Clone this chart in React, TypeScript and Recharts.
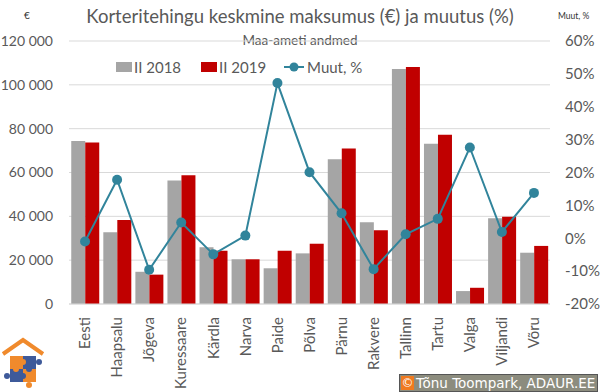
import React from 'react'
import { ComposedChart, Bar, Line, XAxis, YAxis, CartesianGrid } from 'recharts'

const cities = ['Eesti', 'Haapsalu', 'Jõgeva', 'Kuressaare', 'Kärdla', 'Narva', 'Paide', 'Põlva', 'Pärnu', 'Rakvere', 'Tallinn', 'Tartu', 'Valga', 'Viljandi', 'Võru']
const price2018 = [74400, 32700, 14700, 56400, 25900, 20400, 16300, 23100, 66000, 37300, 107200, 73100, 5900, 39100, 23400]
const price2019 = [73700, 38300, 13400, 58700, 24300, 20400, 24300, 27500, 70900, 33600, 108100, 77200, 7400, 39800, 26500]
const change = [-0.010, 0.178, -0.096, 0.048, -0.049, 0.008, 0.472, 0.201, 0.076, -0.094, 0.012, 0.059, 0.276, 0.019, 0.138]
const leftTicks = [0, 20000, 40000, 60000, 80000, 100000, 120000]
const rightTicks = [-0.2, -0.1, 0, 0.1, 0.2, 0.3, 0.4, 0.5, 0.6]

const data = cities.map((c, i) => ({ name: c, y2018: price2018[i], y2019: price2019[i], muut: change[i] }))

const FONT = 'Lato, "Open Sans", sans-serif'
const TXT = '#595959'
const GRAY = '#A5A5A5'
const RED = '#C00000'
const TEAL = '#31849B'

const fmtNum = (v: number) => String(v).replace(/\B(?=(\d{3})+(?!\d))/g, ' ')
const fmtPct = (v: number) => `${Math.round(v * 100)}%`

function CityTick({ x, y, payload }: any) {
  const ty = y + 11
  return (
    <text x={x} y={ty} transform={`rotate(-90, ${x}, ${ty})`} textAnchor="end" dy="0.35em"
      fontSize={15} fill={TXT} fontFamily={FONT}>
      {payload.value}
    </text>
  )
}

function Logo() {
  return (
    <svg width={44} height={58} viewBox="0 0 44 58" style={{ position: 'absolute', left: 1, top: 334 }}>
      <polyline points="2,20 22,6 42,20" fill="none" stroke="#F08A2C" strokeWidth={4} />
      <rect x={9} y={22} width={13} height={13} fill="#F08A2C" />
      <rect x={22} y={22} width={13} height={13} fill="#3E5A9A" />
      <rect x={9} y={35} width={13} height={13} fill="#3E5A9A" />
      <rect x={22} y={35} width={13} height={13} fill="#F08A2C" />
      <circle cx={22} cy={28} r={3} fill="#F08A2C" />
      <circle cx={28} cy={35} r={3} fill="#3E5A9A" />
      <circle cx={15} cy={35} r={3} fill="#F08A2C" />
      <circle cx={22} cy={42} r={3} fill="#3E5A9A" />
      <circle cx={6} cy={42} r={3} fill="#3E5A9A" />
      <circle cx={38} cy={28} r={3} fill="#3E5A9A" />
      <circle cx={28} cy={51} r={3} fill="#F08A2C" />
    </svg>
  )
}

export default function App() {
  return (
    <div style={{ position: 'absolute', left: 0, top: 0, width: 600, height: 392, background: '#fff', fontFamily: FONT, overflow: 'hidden' }}>
      <div style={{ position: 'absolute', left: 0, width: 600, top: 5, textAlign: 'center', fontSize: 18.5, color: TXT }}>
        Korteritehingu keskmine maksumus (€) ja muutus (%)
      </div>
      <div style={{ position: 'absolute', left: 0, width: 600, top: 32, textAlign: 'center', fontSize: 13.5, color: TXT }}>
        Maa-ameti andmed
      </div>
      <div style={{ position: 'absolute', left: 24, top: 9, fontSize: 10, color: '#333' }}>€</div>
      <div style={{ position: 'absolute', left: 558, top: 11, fontSize: 8.5, color: '#333' }}>Muut, %</div>

      <div style={{ position: 'absolute', left: 116, top: 58, display: 'flex', alignItems: 'center', fontSize: 15, color: TXT, whiteSpace: 'nowrap' }}>
        <span style={{ width: 16, height: 10, background: GRAY, display: 'inline-block', marginRight: 2 }} />
        <span style={{ marginRight: 20 }}>II 2018</span>
        <span style={{ width: 16, height: 10, background: RED, display: 'inline-block', marginRight: 2 }} />
        <span style={{ marginRight: 18 }}>II 2019</span>
        <svg width={20} height={12} style={{ marginRight: 3 }}>
          <line x1={0} y1={6} x2={20} y2={6} stroke={TEAL} strokeWidth={2} />
          <circle cx={10} cy={6} r={4.5} fill={TEAL} />
        </svg>
        <span>Muut, %</span>
      </div>

      <ComposedChart width={600} height={392} data={data} margin={{ top: 41, right: 0, bottom: 0, left: 0 }}
        barCategoryGap="7%" barGap={0} style={{ position: 'absolute', left: 0, top: 0 }}>
        <CartesianGrid vertical={false} stroke="#D9D9D9" yAxisId="left" />
        <XAxis dataKey="name" height={88} interval={0} tick={<CityTick />} tickLine={false} tickSize={0} axisLine={{ stroke: '#D9D9D9' }} />
        <YAxis yAxisId="left" width={69} domain={[0, 120000]} ticks={leftTicks} tickFormatter={fmtNum}
          axisLine={false} tickLine={false} tickSize={0} tickMargin={16}
          tick={{ fontSize: 14, fill: TXT, fontFamily: FONT }} />
        <YAxis yAxisId="right" orientation="right" width={50} domain={[-0.2, 0.6]} ticks={rightTicks} tickFormatter={fmtPct}
          axisLine={false} tickLine={false} tickSize={0} tickMargin={15}
          tick={{ fontSize: 15, fill: TXT, fontFamily: FONT }} />
        <Bar yAxisId="left" dataKey="y2018" name="II 2018" fill={GRAY} isAnimationActive={false} />
        <Bar yAxisId="left" dataKey="y2019" name="II 2019" fill={RED} isAnimationActive={false} />
        <Line yAxisId="right" dataKey="muut" name="Muut, %" type="linear" stroke={TEAL} strokeWidth={2}
          dot={{ r: 5, fill: TEAL, stroke: TEAL, strokeWidth: 0 }} isAnimationActive={false} />
      </ComposedChart>

      <Logo />
      <div style={{ position: 'absolute', left: 399, top: 374, width: 197, height: 16, background: '#8C8C7E', border: '1px solid #555',
        display: 'flex', alignItems: 'center', fontSize: 13.5, color: '#fff', fontFamily: '"DejaVu Sans", Verdana, sans-serif', whiteSpace: 'nowrap' }}>
        <span style={{ background: '#F07A20', width: 13, height: 14, display: 'inline-flex', alignItems: 'center', justifyContent: 'center', margin: '0 2px 0 1px', fontSize: 12 }}>©</span>
        <span>Tõnu Toompark, ADAUR.EE</span>
      </div>
    </div>
  )
}
